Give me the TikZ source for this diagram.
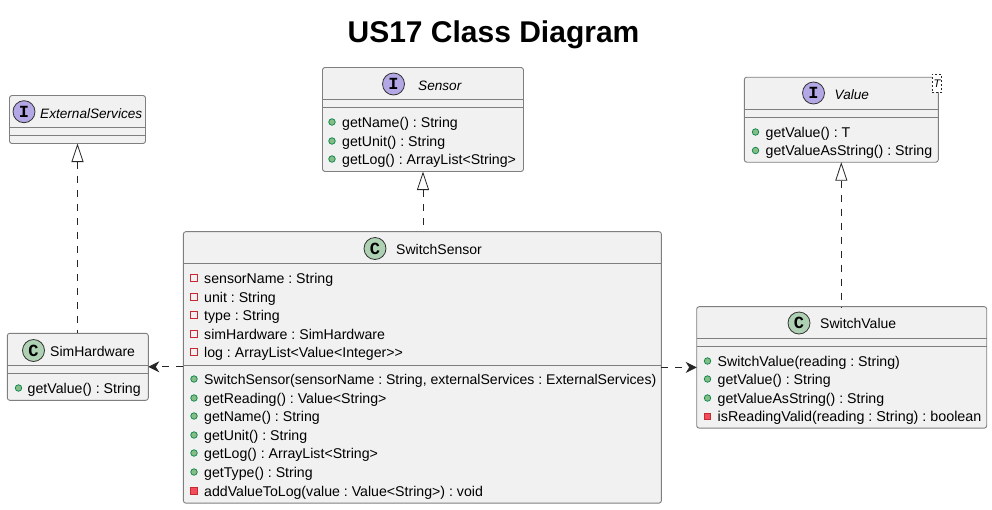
\documentclass[tikz,border=0pt]{standalone}
\usepackage{fontspec}
\setmainfont{Liberation Sans}
\newfontfamily\spotfont{Liberation Mono}
\usetikzlibrary{arrows.meta}
\definecolor{boxfill}{HTML}{F1F1F1}
\definecolor{boxline}{HTML}{7F7F7F}
\definecolor{pubfill}{HTML}{84BE84}
\definecolor{publine}{HTML}{038048}
\definecolor{prifill}{HTML}{F24D5C}
\definecolor{priline}{HTML}{C82930}
\definecolor{ifill}{HTML}{B4A7E5}
\definecolor{cfill}{HTML}{ADD1B2}
\tikzset{
  box/.style = {draw=boxline, fill=boxfill, rounded corners=2.5pt, inner sep=0pt, outer sep=0pt, line width=0.9pt},
  rule/.style = {draw=boxline, line width=0.9pt},
  spot/.style = {draw=black!80, circle, line width=0.8pt, minimum size=22pt, inner sep=0pt, font=\spotfont\bfseries\fontsize{17}{17}\selectfont},
  classname/.style = {inner sep=0pt, anchor=west, text height=10pt, text depth=3pt, font=\fontsize{14}{16}\selectfont},
  ifname/.style = {classname, font=\itshape\fontsize{13.6}{16}\selectfont},
  member/.style = {classname, font=\fontsize{14.15}{16}\selectfont},
  pub/.style = {draw=publine, fill=pubfill, circle, minimum size=6.5pt, inner sep=0pt, line width=0.7pt},
  pri/.style = {draw=priline, fill=boxfill, rectangle, minimum size=6.5pt, inner sep=0pt, line width=0.9pt},
  primeth/.style = {pri, fill=prifill},
  real/.style = {draw=black!85, dash pattern=on 7pt off 7pt, line width=0.8pt, {Triangle[open, fill=white, length=18.5pt, width=12pt, line width=0.8pt]}-},
  dep/.style = {draw=black!85, dash pattern=on 7pt off 7pt, line width=0.8pt, -{Stealth[inset=3.5pt, length=11pt, width=11pt]}}
}
\begin{document}
\frenchspacing
\begin{tikzpicture}[x=1pt, y=-1pt]
\useasboundingbox (0,0) rectangle (992,509);
\node (title) [inner sep=0pt, font=\bfseries\fontsize{30}{34}\selectfont] at (493.5,35) {US17 Class Diagram};

% the boxes
\node[box, minimum width=136pt, minimum height=48pt] (extserv) at (77.5,119.5) {};
\node[box, minimum width=201pt, minimum height=104pt] (sensor) at (423,119.5) {};
\node[box, minimum width=194pt, minimum height=85pt] (value) at (841.3,119.7) {};
\node[box, minimum width=141pt, minimum height=67pt] (simhw) at (77.8,366.8) {};
\node[box, minimum width=478pt, minimum height=271.5pt] (swsensor) at (422.4,367.4) {};
\node[box, minimum width=290pt, minimum height=121.5pt] (swvalue) at (841.7,367.4) {};

% the rules
\foreach \b/\ya/\yb in {extserv/127.3/135.3, sensor/99.4/107.5, value/109.3/117.3, simhw/365/373.3, swsensor/263.7/365.3, swvalue/338.3/346.7} {
  \draw[rule] (\b.west |- 0,\ya) -- (\b.east |- 0,\ya);
  \draw[rule] (\b.west |- 0,\yb) -- (\b.east |- 0,\yb);
}

% headers
\node[spot, fill=ifill] (ispot1) at (24,111.7) {I};
\node[ifname] (extname) at (40,114.5) {ExternalServices};
\node[spot, fill=ifill] (ispot2) at (393.5,84) {I};
\node[ifname] (sensorname) at (418,86.5) {Sensor};
\node[spot, fill=ifill] (ispot3) at (813.5,93) {I};
\node[ifname] (valuename) at (834.5,95.5) {Value};
\node[spot, fill=cfill] (cspot1) at (33.5,350.5) {C};
\node[classname] (hwname) at (50,352.5) {SimHardware};
\node[spot, fill=cfill] (cspot2) at (375,248.5) {C};
\node[classname] (swname) at (396,250.5) {SwitchSensor};
\node[spot, fill=cfill] (cspot3) at (799,323) {C};
\node[classname] (svname) at (820,324.5) {SwitchValue};

% template box
\node[draw=black!85, dash pattern=on 2pt off 2pt, line width=0.6pt, fill=white, inner sep=0pt, minimum width=9.5pt, minimum height=18pt, font=\itshape\fontsize{11}{12}\selectfont] (tparam) at (937,83.3) {T};

% members
\foreach \n/\y/\t in {1/123.5/{getName() : String}, 2/142.5/{getUnit() : String}, 3/160.5/{getLog() : ArrayList<String>}} {
  \node[pub] (sm\n) at (332,\y-1.5) {};
  \node[member] (st\n) at (342,\y) {\t};
}
\foreach \n/\y/\t in {1/133.5/{getValue() : T}, 2/152/{getValueAsString() : String}} {
  \node[pub] (vm\n) at (755.5,\y-1.5) {};
  \node[member] (vt\n) at (765.5,\y) {\t};
}
\node[pub] (hm1) at (18.5,388) {};
\node[member] (ht1) at (27.5,389.5) {getValue() : String};
\foreach \n/\y/\t in {1/279.5/{sensorName : String}, 2/298.5/{unit : String}, 3/316.5/{type : String}, 4/335.5/{simHardware : SimHardware}, 5/353.5/{log : ArrayList<Value<Integer>{}>}} {
  \node[pri] (ap\n) at (194,\y-1.5) {};
  \node[member] (at\n) at (204,\y) {\t};
}
\node[pub] (mp1) at (194,379) {};
\node[member, font=\fontsize{14.05}{16}\selectfont] (mt1) at (204,380.5) {SwitchSensor(sensorName : String, externalServices : ExternalServices)};
\foreach \n/\y/\t in {2/399.5/{getReading() : Value<String>}, 3/417.5/{getName() : String}, 4/436.5/{getUnit() : String}, 5/454.5/{getLog() : ArrayList<String>}, 6/473.5/{getType() : String}} {
  \node[pub] (mp\n) at (194,\y-1.5) {};
  \node[member] (mt\n) at (204,\y) {\t};
}
\node[primeth] (mp7) at (194,491) {};
\node[member] (mt7) at (204,492.5) {addValueToLog(value : Value<String>) : void};
\foreach \n/\y/\t in {1/362.5/{SwitchValue(reading : String)}, 2/380.5/{getValue() : String}, 3/399.5/{getValueAsString() : String}} {
  \node[pub] (wm\n) at (707.5,\y-1.5) {};
  \node[member] (wt\n) at (717.5,\y) {\t};
}
\node[primeth] (wm4) at (707.5,416.5) {};
\node[member, font=\fontsize{14.3}{16}\selectfont] (wt4) at (717.5,418) {isReadingValid(reading : String) : boolean};

% connectors
\draw[real] (extserv.south) -- (simhw.north -| extserv.south);
\draw[real] (sensor.south) -- (swsensor.north -| sensor.south);
\draw[real] (value.south) -- (swvalue.north -| value.south);
\draw[dep] (swsensor.west |- simhw.east) -- (simhw.east);
\draw[dep] (swsensor.east |- swvalue.west) -- (swvalue.west);
\end{tikzpicture}
\end{document}
